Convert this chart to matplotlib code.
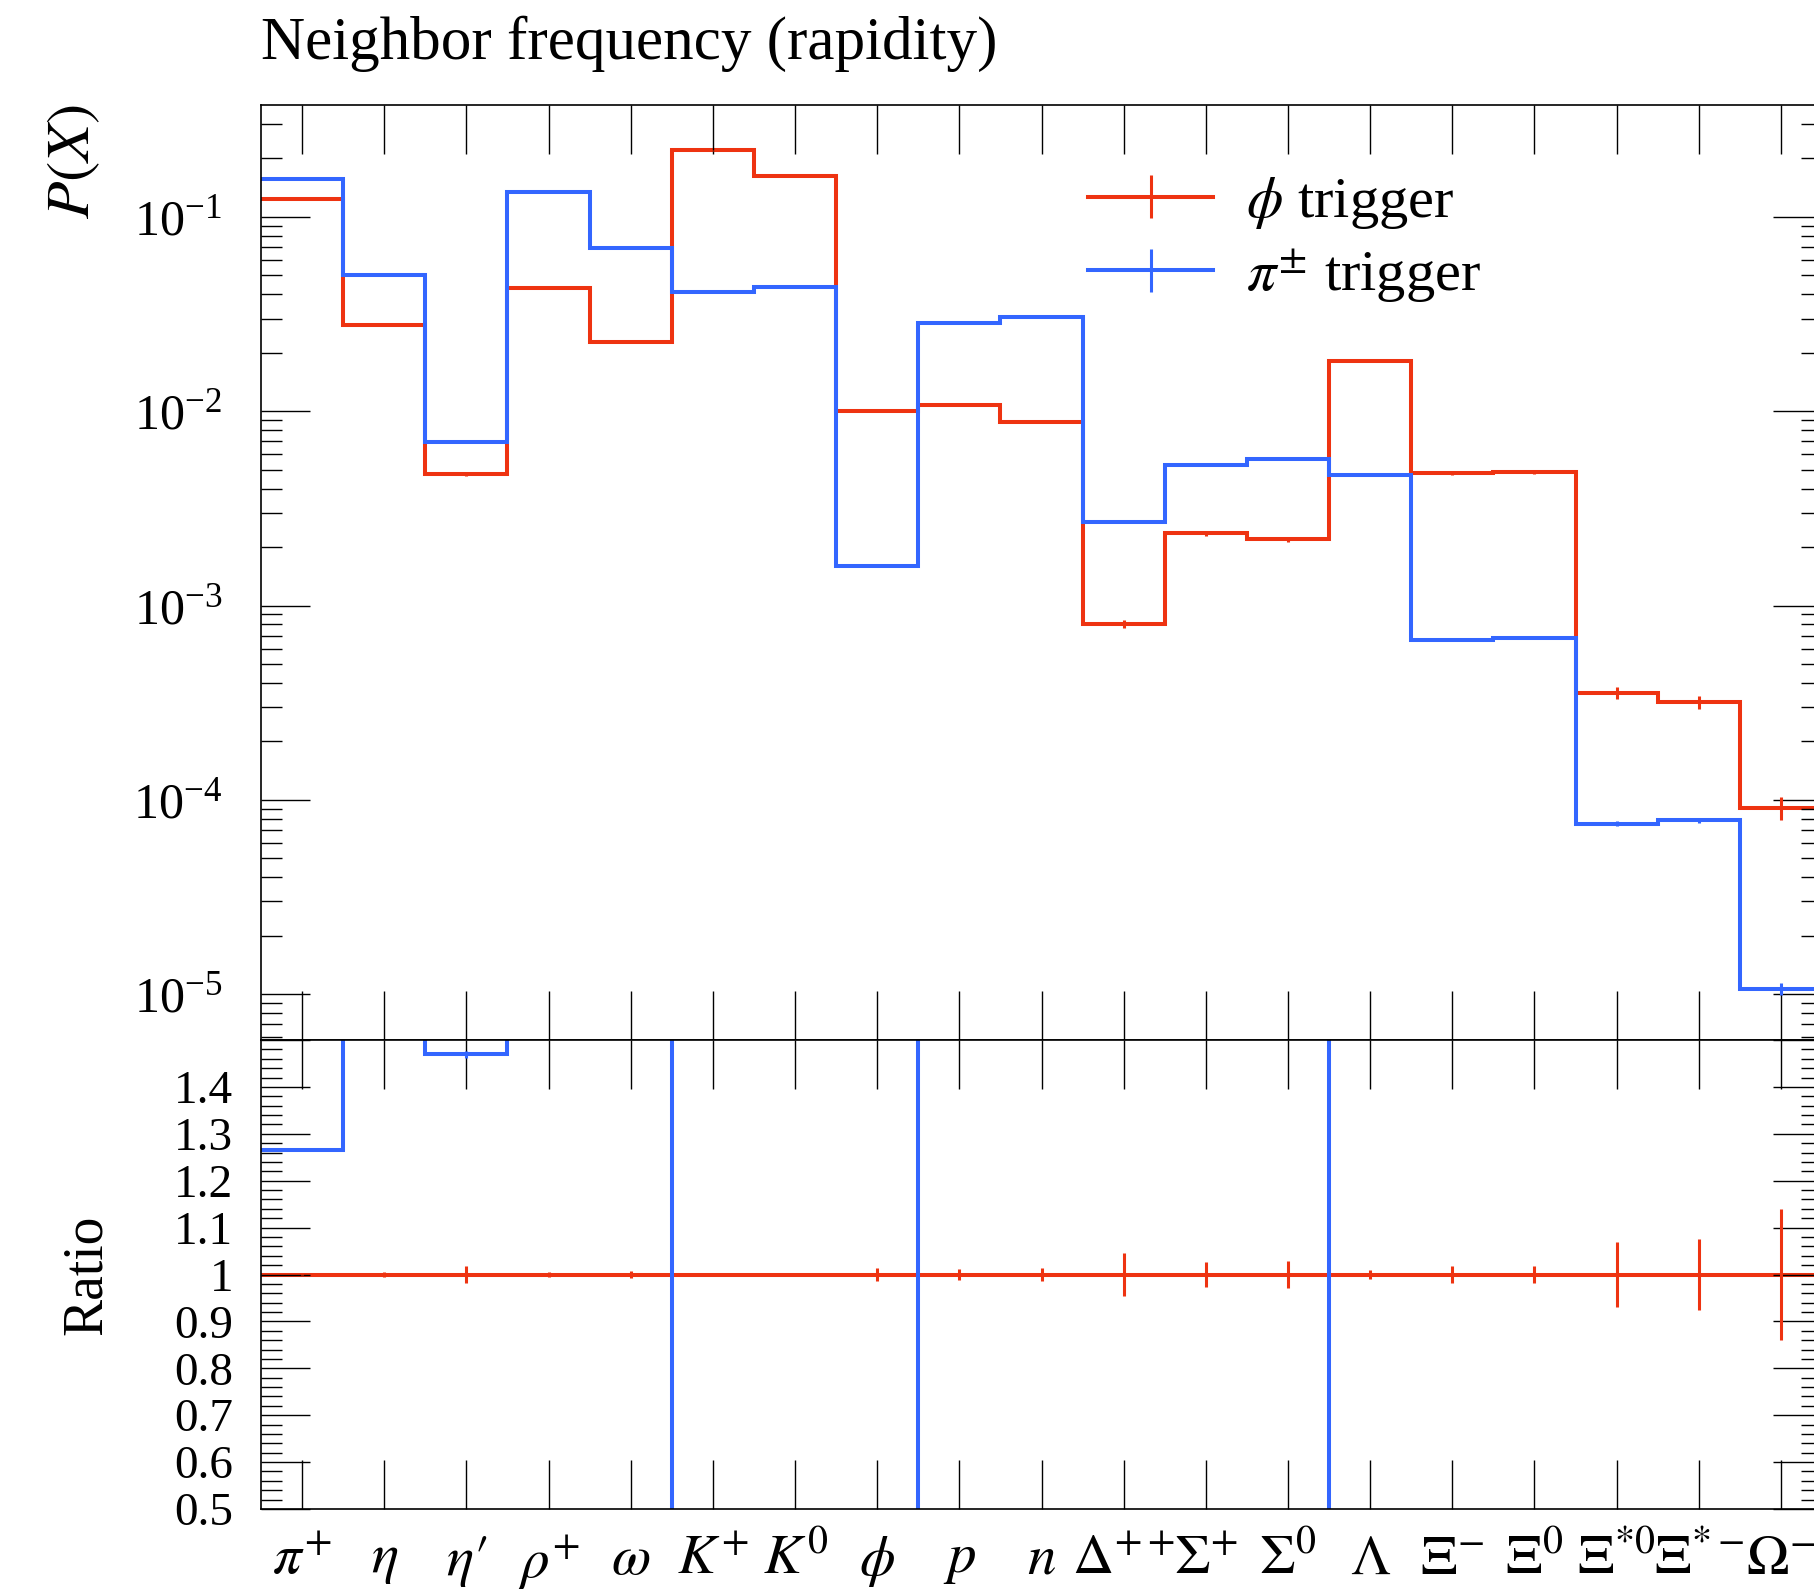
import numpy as np
import matplotlib
matplotlib.use("Agg")
import matplotlib.pyplot as plt
from matplotlib.ticker import (LogLocator, MultipleLocator, FixedLocator,
                               NullFormatter, FuncFormatter, LogFormatterSciNotation)
from matplotlib.legend_handler import HandlerTuple, HandlerErrorbar
from matplotlib.container import ErrorbarContainer

plt.rcParams['font.family'] = ['Liberation Serif', 'DejaVu Serif']
plt.rcParams['mathtext.fontset'] = 'stix'

# ---- data -----------------------------------------------------------------
particles = [r"$\pi^{+}$", r"$\eta$", r"$\eta\prime$", r"$\rho^{+}$", r"$\omega$",
             r"$K^{+}$", r"$K^{0}$", r"$\phi$", r"$p$", r"$n$",
             r"$\Delta^{++}$", r"$\Sigma^{+}$", r"$\Sigma^{0}$", r"$\Lambda$",
             r"$\Xi^{-}$", r"$\Xi^{0}$", r"$\Xi^{*0}$", r"$\Xi^{*-}$", r"$\Omega^{-}$"]

phi_trigger = [0.124, 0.0277, 0.00473, 0.0431, 0.0226, 0.220, 0.163, 0.01005,
               0.01076, 0.00877, 8.05e-4, 2.35e-3, 2.19e-3, 0.0181, 4.80e-3,
               4.86e-3, 3.54e-4, 3.17e-4, 9.1e-5]
phi_rel_err = [0.002, 0.006, 0.0175, 0.006, 0.008, 0.003, 0.003, 0.0135,
               0.012, 0.014, 0.046, 0.027, 0.028, 0.009, 0.019,
               0.019, 0.070, 0.075, 0.139]

pi_trigger = [0.157, 0.050, 6.95e-3, 0.134, 0.0695, 0.0413, 0.0436, 1.60e-3,
              0.0285, 0.0305, 2.70e-3, 5.28e-3, 5.66e-3, 4.67e-3, 6.65e-4,
              6.84e-4, 7.52e-5, 7.83e-5, 1.06e-5]
pi_rel_err = [0.001, 0.002, 0.005, 0.002, 0.002, 0.002, 0.002, 0.006,
              0.002, 0.002, 0.008, 0.006, 0.006, 0.006, 0.015,
              0.015, 0.03, 0.03, 0.07]

labels = [r"$\phi$ trigger", r"$\pi^{\pm}$ trigger"]
colors = ["#EE3311", "#3366FF"]

# ---- derived quantities ---------------------------------------------------
n = len(particles)
edges = np.arange(n + 1, dtype=float)
centers = 0.5 * (edges[:-1] + edges[1:])
ref = np.asarray(phi_trigger)
series = [np.asarray(phi_trigger), np.asarray(pi_trigger)]
errors = [np.asarray(phi_rel_err) * series[0], np.asarray(pi_rel_err) * series[1]]

# ---- figure layout ---------------------------------------------------------
W, H = 1814, 1593
fig = plt.figure(figsize=(W / 100, H / 100), dpi=100)
x0, x1 = 261, 1822
y_top, y_split, y_bot = 105, 1040, 1509
ax = fig.add_axes([x0 / W, 1 - y_split / H, (x1 - x0) / W, (y_split - y_top) / H])
rax = fig.add_axes([x0 / W, 1 - y_bot / H, (x1 - x0) / W, (y_bot - y_split) / H],
                   sharex=ax)

LW = 2.9
ELW = 2.2
handles = []
for vals, errs, col in zip(series, errors, colors):
    st = ax.stairs(vals, edges, color=col, lw=LW, baseline=None)
    eb = ax.errorbar(centers, vals, yerr=errs, fmt='none', ecolor=col,
                     elinewidth=ELW, capsize=0)
    st.set_joinstyle('miter')
    handles.append((st, eb))

    r = vals / ref
    rerr = errs / ref
    rs = rax.stairs(r, edges, color=col, lw=LW, baseline=None)
    rs.set_joinstyle('miter')
    rax.errorbar(centers, r, yerr=rerr, fmt='none', ecolor=col,
                 elinewidth=ELW, capsize=0)

# ---- main panel axes -------------------------------------------------------
ax.set_yscale('log')
ax.set_ylim(5.8e-6, 0.377)
ax.set_xlim(edges[0], edges[-1])
ax.yaxis.set_major_locator(LogLocator(base=10, numticks=20))
ax.yaxis.set_minor_locator(LogLocator(base=10, subs=np.arange(2, 10), numticks=50))
ax.yaxis.set_minor_formatter(NullFormatter())
ax.yaxis.set_major_formatter(LogFormatterSciNotation())
ax.xaxis.set_major_locator(FixedLocator(centers))
ax.tick_params(axis='x', labelbottom=False)

# ---- ratio panel axes ------------------------------------------------------
rax.set_ylim(0.5, 1.5)
rax.yaxis.set_major_locator(MultipleLocator(0.1))
rax.yaxis.set_minor_locator(MultipleLocator(0.02))
rax.yaxis.set_major_formatter(FuncFormatter(lambda v, p: '' if v > 1.45 else f"{v:g}"))
rax.set_xticks(centers)
rax.set_xticklabels(particles)

for a in (ax, rax):
    a.tick_params(which='both', direction='in', top=True, right=True,
                  width=1.0, color='black')
    a.tick_params(which='major', length=35)
    a.tick_params(which='minor', length=15)
    a.tick_params(axis='x', which='minor', bottom=False, top=False)
    for s in a.spines.values():
        s.set_linewidth(1.2)

ax.tick_params(axis='y', which='major', labelsize=36, pad=28)
rax.tick_params(axis='y', which='major', labelsize=34, pad=20)
rax.tick_params(axis='x', which='major', labelsize=41, pad=18)

# ---- labels ----------------------------------------------------------------
ax.set_ylabel(r"$P(X)$", fontsize=44, loc='top')
ax.yaxis.set_label_coords((102 - x0) / (x1 - x0), 1.0)
rax.set_ylabel("Ratio", fontsize=40)
rax.yaxis.set_label_coords((113 - x0) / (x1 - x0), 0.5)

fig.text(x0 / W, 1 - 59 / H, "Neighbor frequency (rapidity)", fontsize=44,
         ha='left', va='baseline')

leg = ax.legend(handles, labels, loc='upper left',
                bbox_to_anchor=((1088 - x0) / (x1 - x0), 1 - (175 - y_top) / (y_split - y_top)),
                frameon=False, fontsize=42, handlelength=2.15, handletextpad=0.55,
                labelspacing=0.27, borderpad=0, borderaxespad=0,
                handler_map={tuple: HandlerTuple(ndivide=1),
                             ErrorbarContainer: HandlerErrorbar(xerr_size=0.37)})

fig.savefig("out.png", dpi=100)
